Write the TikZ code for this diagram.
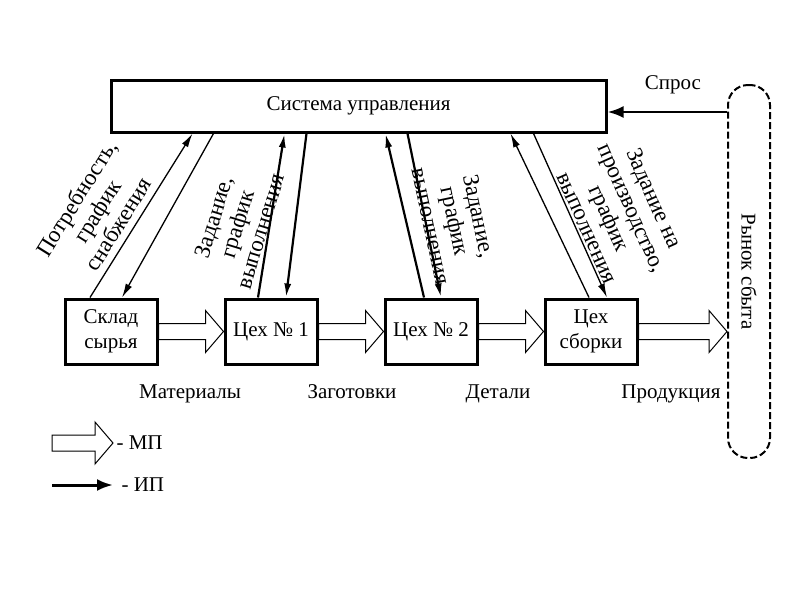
\documentclass[tikz,border=0pt]{standalone}
\usepackage{fontspec}
\setmainfont{Liberation Serif}
\usetikzlibrary{arrows.meta,positioning,calc}

\begin{document}
\begin{tikzpicture}[
  x=1pt, y=-1pt,
  node distance=65pt,
  every node/.style={font=\fontsize{21}{25}\selectfont},
  unit/.style={rectangle, draw, line width=3pt, minimum width=92pt,
    minimum height=65pt, align=center, inner sep=2pt},
  lbl/.style={align=center, inner sep=1pt,
    font=\fontsize{23}{24.5}\selectfont},
  flow/.style={anchor=base},
  info/.style={line width=1.3pt, -{Latex[length=14pt,width=7pt]}},
  ip/.style={line width=3pt, -{Latex[length=16pt,width=12pt]}},
  mp/.style={draw, line width=1pt, fill=white, to path={
    let \p1=(\tikztostart), \p2=(\tikztotarget) in
    (\x1,\y1+8pt) -- (\x2-18pt,\y1+8pt) -- (\x2-18pt,\y1+21pt) -- (\x2,\y1)
    -- (\x2-18pt,\y1-21pt) -- (\x2-18pt,\y1-8pt) -- (\x1,\y1-8pt) -- cycle}}
]
  \useasboundingbox (0,0) rectangle (800,600);

  % control system and market
  \node[rectangle, draw, line width=3pt, minimum width=495pt,
    minimum height=52pt] (sys) at (358.5,106) {Система управления};
  \node[rectangle, draw, dash pattern=on 7pt off 3pt, line width=2pt,
    rounded corners=20pt, minimum width=42pt, minimum height=373pt,
    label={[rotate=-90]center:Рынок сбыта}] (mkt) at (749,271.5) {};
  \node (spros) at (673,85) {Спрос};

  % production chain
  \node[unit] (sklad) at (111,331.5) {Склад\\сырья};
  \node[unit, right=of sklad] (c1) {Цех № 1};
  \node[unit, right=of c1] (c2) {Цех № 2};
  \node[unit, right=of c2] (sb) {Цех\\сборки};

  \draw[mp] (sklad.east) to (c1.west);
  \draw[mp] (c1.east) to (c2.west);
  \draw[mp] (c2.east) to (sb.west);
  \draw[mp] (sb.east) to (mkt.west);

  \node[flow] (mat) at (190,398) {Материалы};
  \node[flow] (zag) at (352,398) {Заготовки};
  \node[flow] (det) at (498,398) {Детали};
  \node[flow] (prod) at (671,398) {Продукция};

  % information flows
  \coordinate (sp) at ([yshift=-6pt]sys.east);
  \draw[ip, line width=2.6pt] (sp -| mkt.west) -- (sp);

  \draw[info] ([xshift=-21pt]sklad.north) -- ([xshift=-166pt]sys.south);
  \draw[info] ([xshift=-145pt]sys.south) -- ([xshift=11pt]sklad.north);
  \draw[info, line width=2.2pt] ([xshift=-13pt]c1.north) -- ([xshift=-74pt]sys.south);
  \draw[info, line width=2.2pt] ([xshift=-52pt]sys.south) -- ([xshift=15pt]c1.north);
  \draw[info, line width=2.2pt] ([xshift=-7pt]c2.north) -- ([xshift=27pt]sys.south);
  \draw[info, line width=2.2pt] ([xshift=49pt]sys.south) -- ([xshift=10pt]c2.north);
  \draw[info] ([xshift=-2pt]sb.north) -- ([xshift=152pt]sys.south);
  \draw[info] ([xshift=175pt]sys.south) -- ([xshift=16pt]sb.north);

  \node[lbl, rotate=58] (t1) at (97,211) {Потребность,\\график\\снабжения};
  \node[lbl, rotate=73] (t2) at (237,224) {Задание,\\график\\выполнения};
  \node[lbl, rotate=-78] (t3) at (455,221) {Задание,\\график\\выполнения};
  \node[lbl, rotate=-66] (t4) at (621,213) {Задание на\\производство,\\график\\выполнения};

  % legend
  \coordinate (m0) at (52,443);
  \node[anchor=west] (mpt) at (113,443) {- МП};
  \draw[mp] (m0) to (mpt.west);
  \coordinate (i0) at (52,485);
  \node[anchor=west] (ipt) at (118,485) {- ИП};
  \draw[ip, shorten >=5pt] (i0) -- (ipt.west);
\end{tikzpicture}
\end{document}
